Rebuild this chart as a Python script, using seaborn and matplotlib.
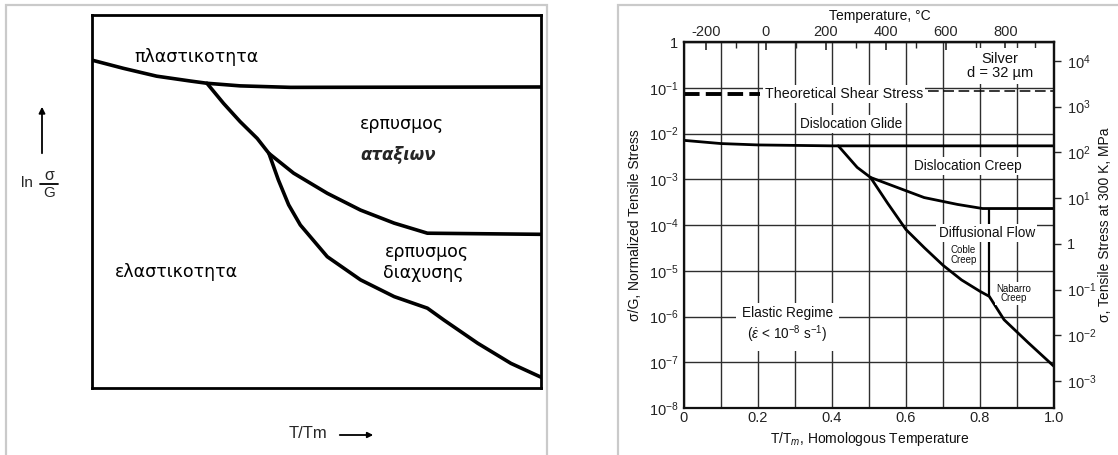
import numpy as np
import matplotlib
matplotlib.use("Agg")
import matplotlib.pyplot as plt
import seaborn as sns
from matplotlib.patches import Rectangle, FancyArrowPatch
from matplotlib.lines import Line2D
from matplotlib.ticker import NullLocator

# ---------------- Left schematic (arbitrary units 0..1) ----------------
plast_x = [0.0, 0.070, 0.144, 0.219, 0.256, 0.330, 0.442, 1.0]
plast_y = [0.879, 0.857, 0.836, 0.823, 0.817, 0.810, 0.806, 0.807]
disl_x = [0.256, 0.293, 0.330, 0.368, 0.394, 0.449, 0.524, 0.598, 0.673, 0.747, 1.0]
disl_y = [0.817, 0.763, 0.714, 0.669, 0.629, 0.576, 0.522, 0.477, 0.442, 0.415, 0.412]
diff_x = [0.394, 0.415, 0.438, 0.464, 0.524, 0.598, 0.673, 0.747, 0.784, 0.859, 0.933, 1.0]
diff_y = [0.629, 0.558, 0.491, 0.437, 0.352, 0.290, 0.245, 0.214, 0.182, 0.120, 0.066, 0.029]
left_labels = ["πλαστικοτητα", "ερπυσμος", "αταξιων", "ερπυσμος", "διαχυσης", "ελαστικοτητα"]

# ---------------- Right deformation map (silver) ----------------
glide_x = [0.0, 0.1, 0.2, 0.4, 1.0]
glide_logy = [-2.15, -2.22, -2.25, -2.27, -2.27]
creep_x = [0.417, 0.468, 0.504, 0.649, 0.739, 0.807, 1.0]
creep_logy = [-2.27, -2.74, -2.96, -3.40, -3.55, -3.64, -3.64]
diffu_x = [0.504, 0.55, 0.60, 0.65, 0.70, 0.75, 0.80, 0.825, 0.865, 0.93, 1.0]
diffu_logy = [-2.96, -3.52, -4.10, -4.50, -4.88, -5.20, -5.45, -5.56, -6.07, -6.57, -7.09]
coble_x = [0.825, 0.825]
coble_logy = [-3.64, -5.56]
shear_left_x = [0.0, 0.206]
shear_left_logy = [-1.14, -1.14]
shear_right_x = [0.66, 1.0]
shear_right_logy = [-1.08, -1.08]

x_ticks = [0.0, 0.2, 0.4, 0.6, 0.8, 1.0]
x_ticklabels = ["0", "0.2", "0.4", "0.6", "0.8", "1.0"]
y_exps = [0, -1, -2, -3, -4, -5, -6, -7, -8]
temp_major = [-200, 0, 200, 400, 600, 800]
temp_minor = [-100, 100, 300, 500, 700, 900]
stress_exps = [4, 3, 2, 1, 0, -1, -2, -3]
T_MELT_K = 1235.0
G_MPA = 10 ** 4.41

sns.set_theme(style="white")
plt.rcParams['font.family'] = ['Liberation Sans', 'DejaVu Sans']
plt.rcParams['mathtext.fontset'] = 'custom'
plt.rcParams['mathtext.rm'] = 'Liberation Sans'
plt.rcParams['mathtext.it'] = 'Liberation Sans:italic'
plt.rcParams['mathtext.bf'] = 'Liberation Sans:bold'

W, H = 1118, 455
fig = plt.figure(figsize=(W / 100, H / 100), dpi=100)
fig.patch.set_facecolor('white')


def px_rect(x0, y0, x1, y1):
    return [x0 / W, 1 - y1 / H, (x1 - x0) / W, (y1 - y0) / H]


def fx(px):
    return px / W


def fy(py):
    return 1 - py / H


# panel frames
fig.add_artist(Rectangle((6 / W, -0.02), 541 / W, 1 - 5 / H + 0.02,
                         transform=fig.transFigure, fill=False,
                         edgecolor='#cacaca', lw=1.6))
fig.add_artist(Rectangle((618 / W, -0.02), 0.5, 1 - 5 / H + 0.02,
                         transform=fig.transFigure, fill=False,
                         edgecolor='#cacaca', lw=1.6))

# ---------------- Left panel ----------------
ax1 = fig.add_axes(px_rect(92, 15, 541, 388))
for xs, ys in [(plast_x, plast_y), (disl_x, disl_y), (diff_x, diff_y)]:
    sns.lineplot(x=xs, y=ys, ax=ax1, color='black', lw=2.6, sort=False,
                 estimator=None, solid_joinstyle='round', solid_capstyle='round')
ax1.set_xlim(0, 1)
ax1.set_ylim(0, 1)
ax1.set_xticks([])
ax1.set_yticks([])
for s in ax1.spines.values():
    s.set_linewidth(2.0)
    s.set_color('black')

greek_kw = dict(family='DejaVu Sans', fontsize=12.5, ha='center', va='center', color='black')
ax1.text(0.232, 0.887, left_labels[0], **greek_kw)
ax1.text(0.690, 0.708, left_labels[1], **greek_kw)
ax1.text(0.683, 0.624, left_labels[2], style='italic', weight='bold',
         family='DejaVu Sans', fontsize=12, ha='center', va='center')
ax1.text(0.746, 0.365, left_labels[3], **greek_kw)
ax1.text(0.739, 0.308, left_labels[4], **greek_kw)
ax1.text(0.187, 0.311, left_labels[5], **greek_kw)

# "ln sigma/G" label with an upward arrow
fig.text(fx(21), fy(183), 'ln', fontsize=11, ha='left', va='center')
fig.text(fx(49), fy(176), 'σ', fontsize=11.5, ha='center', va='center')
fig.text(fx(49), fy(193), 'G', fontsize=11, ha='center', va='center')
fig.add_artist(Line2D([fx(40), fx(58)], [fy(184), fy(184)], transform=fig.transFigure,
                      color='black', lw=1.3))
fig.add_artist(FancyArrowPatch((fx(42), fy(156)), (fx(42), fy(104)), transform=fig.transFigure,
                               arrowstyle='-|>', mutation_scale=9, color='black', lw=1.3))
fig.text(fx(289), fy(434), 'T/Tm', fontsize=12, ha='left', va='center')
fig.add_artist(FancyArrowPatch((fx(337), fy(435)), (fx(376), fy(435)), transform=fig.transFigure,
                               arrowstyle='-|>', mutation_scale=8, color='black', lw=1.3))

# ---------------- Right panel ----------------
ax2 = fig.add_axes(px_rect(684, 42, 1054, 408))
ax2.set_yscale('log')
ax2.set_xlim(0, 1)
ax2.set_ylim(1e-8, 1)
ax2.set_axisbelow(True)

line_kw = dict(ax=ax2, color='black', sort=False, estimator=None)
sns.lineplot(x=glide_x, y=10 ** np.array(glide_logy), lw=2.0, **line_kw)
sns.lineplot(x=creep_x, y=10 ** np.array(creep_logy), lw=2.0, **line_kw)
sns.lineplot(x=diffu_x, y=10 ** np.array(diffu_logy), lw=2.0, **line_kw)
sns.lineplot(x=coble_x, y=10 ** np.array(coble_logy), lw=1.6, **line_kw)
sns.lineplot(x=shear_left_x, y=10 ** np.array(shear_left_logy), lw=2.8,
             linestyle=(0, (4, 1.6)), **line_kw)
sns.lineplot(x=shear_right_x, y=10 ** np.array(shear_right_logy), lw=1.1,
             linestyle=(0, (7, 3)), **line_kw)

ax2.set_xticks(x_ticks)
ax2.set_xticklabels(x_ticklabels)
ax2.set_xticks(np.arange(0.1, 1.0, 0.2), minor=True)
ax2.set_yticks([10.0 ** e for e in y_exps])
ax2.set_yticklabels(['1'] + [r'$10^{%d}$' % e for e in y_exps[1:]])
ax2.yaxis.set_minor_locator(NullLocator())
ax2.grid(which='both', axis='x', color='#2e2e2e', lw=1.0)
ax2.grid(which='major', axis='y', color='#2e2e2e', lw=1.0)
ax2.tick_params(axis='both', which='both', length=0, labelsize=10.5, colors='#222222')
ax2.tick_params(axis='x', pad=2)
ax2.tick_params(axis='y', pad=4)
for s in ax2.spines.values():
    s.set_linewidth(1.6)
    s.set_color('#111111')

secx = ax2.secondary_xaxis('top', functions=(lambda t: t * T_MELT_K - 273.0,
                                             lambda c: (c + 273.0) / T_MELT_K))
secx.set_xticks(temp_major)
secx.set_xticklabels([str(t) for t in temp_major])
secx.set_xticks(temp_minor, minor=True)
secx.tick_params(which='major', direction='in', length=6, width=1.2, labelsize=10.5, pad=2)
secx.tick_params(which='minor', direction='in', length=4, width=1.0)
secx.spines['top'].set_linewidth(1.6)

secy = ax2.secondary_yaxis('right', functions=(lambda y: y * G_MPA, lambda s: s / G_MPA))
secy.set_yticks([10.0 ** e for e in stress_exps])
secy.set_yticklabels([('1' if e == 0 else r'$10^{%d}$' % e) for e in stress_exps])
secy.yaxis.set_minor_locator(NullLocator())
secy.tick_params(which='major', direction='out', length=5, width=1.0, labelsize=10.5, pad=4)
secy.spines['right'].set_linewidth(1.6)

box = dict(facecolor='white', edgecolor='none', pad=1.5)
tkw = dict(ha='center', va='center', fontsize=9.8, color='#111111', zorder=6)
ax2.text(0.854, 10 ** -0.52, 'Silver\nd = 32 µm', linespacing=1.0,
         bbox=dict(facecolor='white', edgecolor='none', pad=3),
         ha='center', va='center', fontsize=10.5, color='#111111', zorder=6)
ax2.text(0.432, 10 ** -1.13, 'Theoretical Shear Stress', bbox=box,
         ha='center', va='center', fontsize=10.3, color='#111111', zorder=6)
ax2.text(0.453, 10 ** -1.80, 'Dislocation Glide', bbox=box, **tkw)
ax2.text(0.766, 10 ** -2.72, 'Dislocation Creep', bbox=box, **tkw)
ax2.text(0.818, 10 ** -4.18, 'Diffusional Flow', bbox=box, **tkw)
ax2.text(0.755, 10 ** -4.66, 'Coble\nCreep', linespacing=0.95,
         bbox=dict(facecolor='white', edgecolor='none', pad=0.5),
         ha='center', va='center', fontsize=7, color='#111111', zorder=6)
ax2.text(0.89, 10 ** -5.50, 'Nabarro\nCreep', linespacing=0.95,
         bbox=dict(facecolor='white', edgecolor='none', pad=1),
         ha='center', va='center', fontsize=7, color='#111111', zorder=6)
ax2.text(0.28, 10 ** -6.2, 'Elastic Regime\n' + r'($\dot{\varepsilon}$ < 10$^{-8}$ s$^{-1}$)',
         linespacing=1.25, bbox=dict(facecolor='white', edgecolor='none', pad=4), **tkw)

fig.text(fx(635), fy(225), 'σ/G, Normalized Tensile Stress', rotation=90,
         ha='center', va='center', fontsize=10, color='#111111')
fig.text(fx(1105), fy(225), 'σ, Tensile Stress at 300 K, MPa', rotation=90,
         ha='center', va='center', fontsize=10, color='#111111')
fig.text(fx(870), fy(439), r'T/T$_m$, Homologous Temperature',
         ha='center', va='center', fontsize=10, color='#111111')
fig.text(fx(880), fy(16), 'Temperature, °C',
         ha='center', va='center', fontsize=10, color='#111111')

fig.savefig('out.png', dpi=100, facecolor='white')
